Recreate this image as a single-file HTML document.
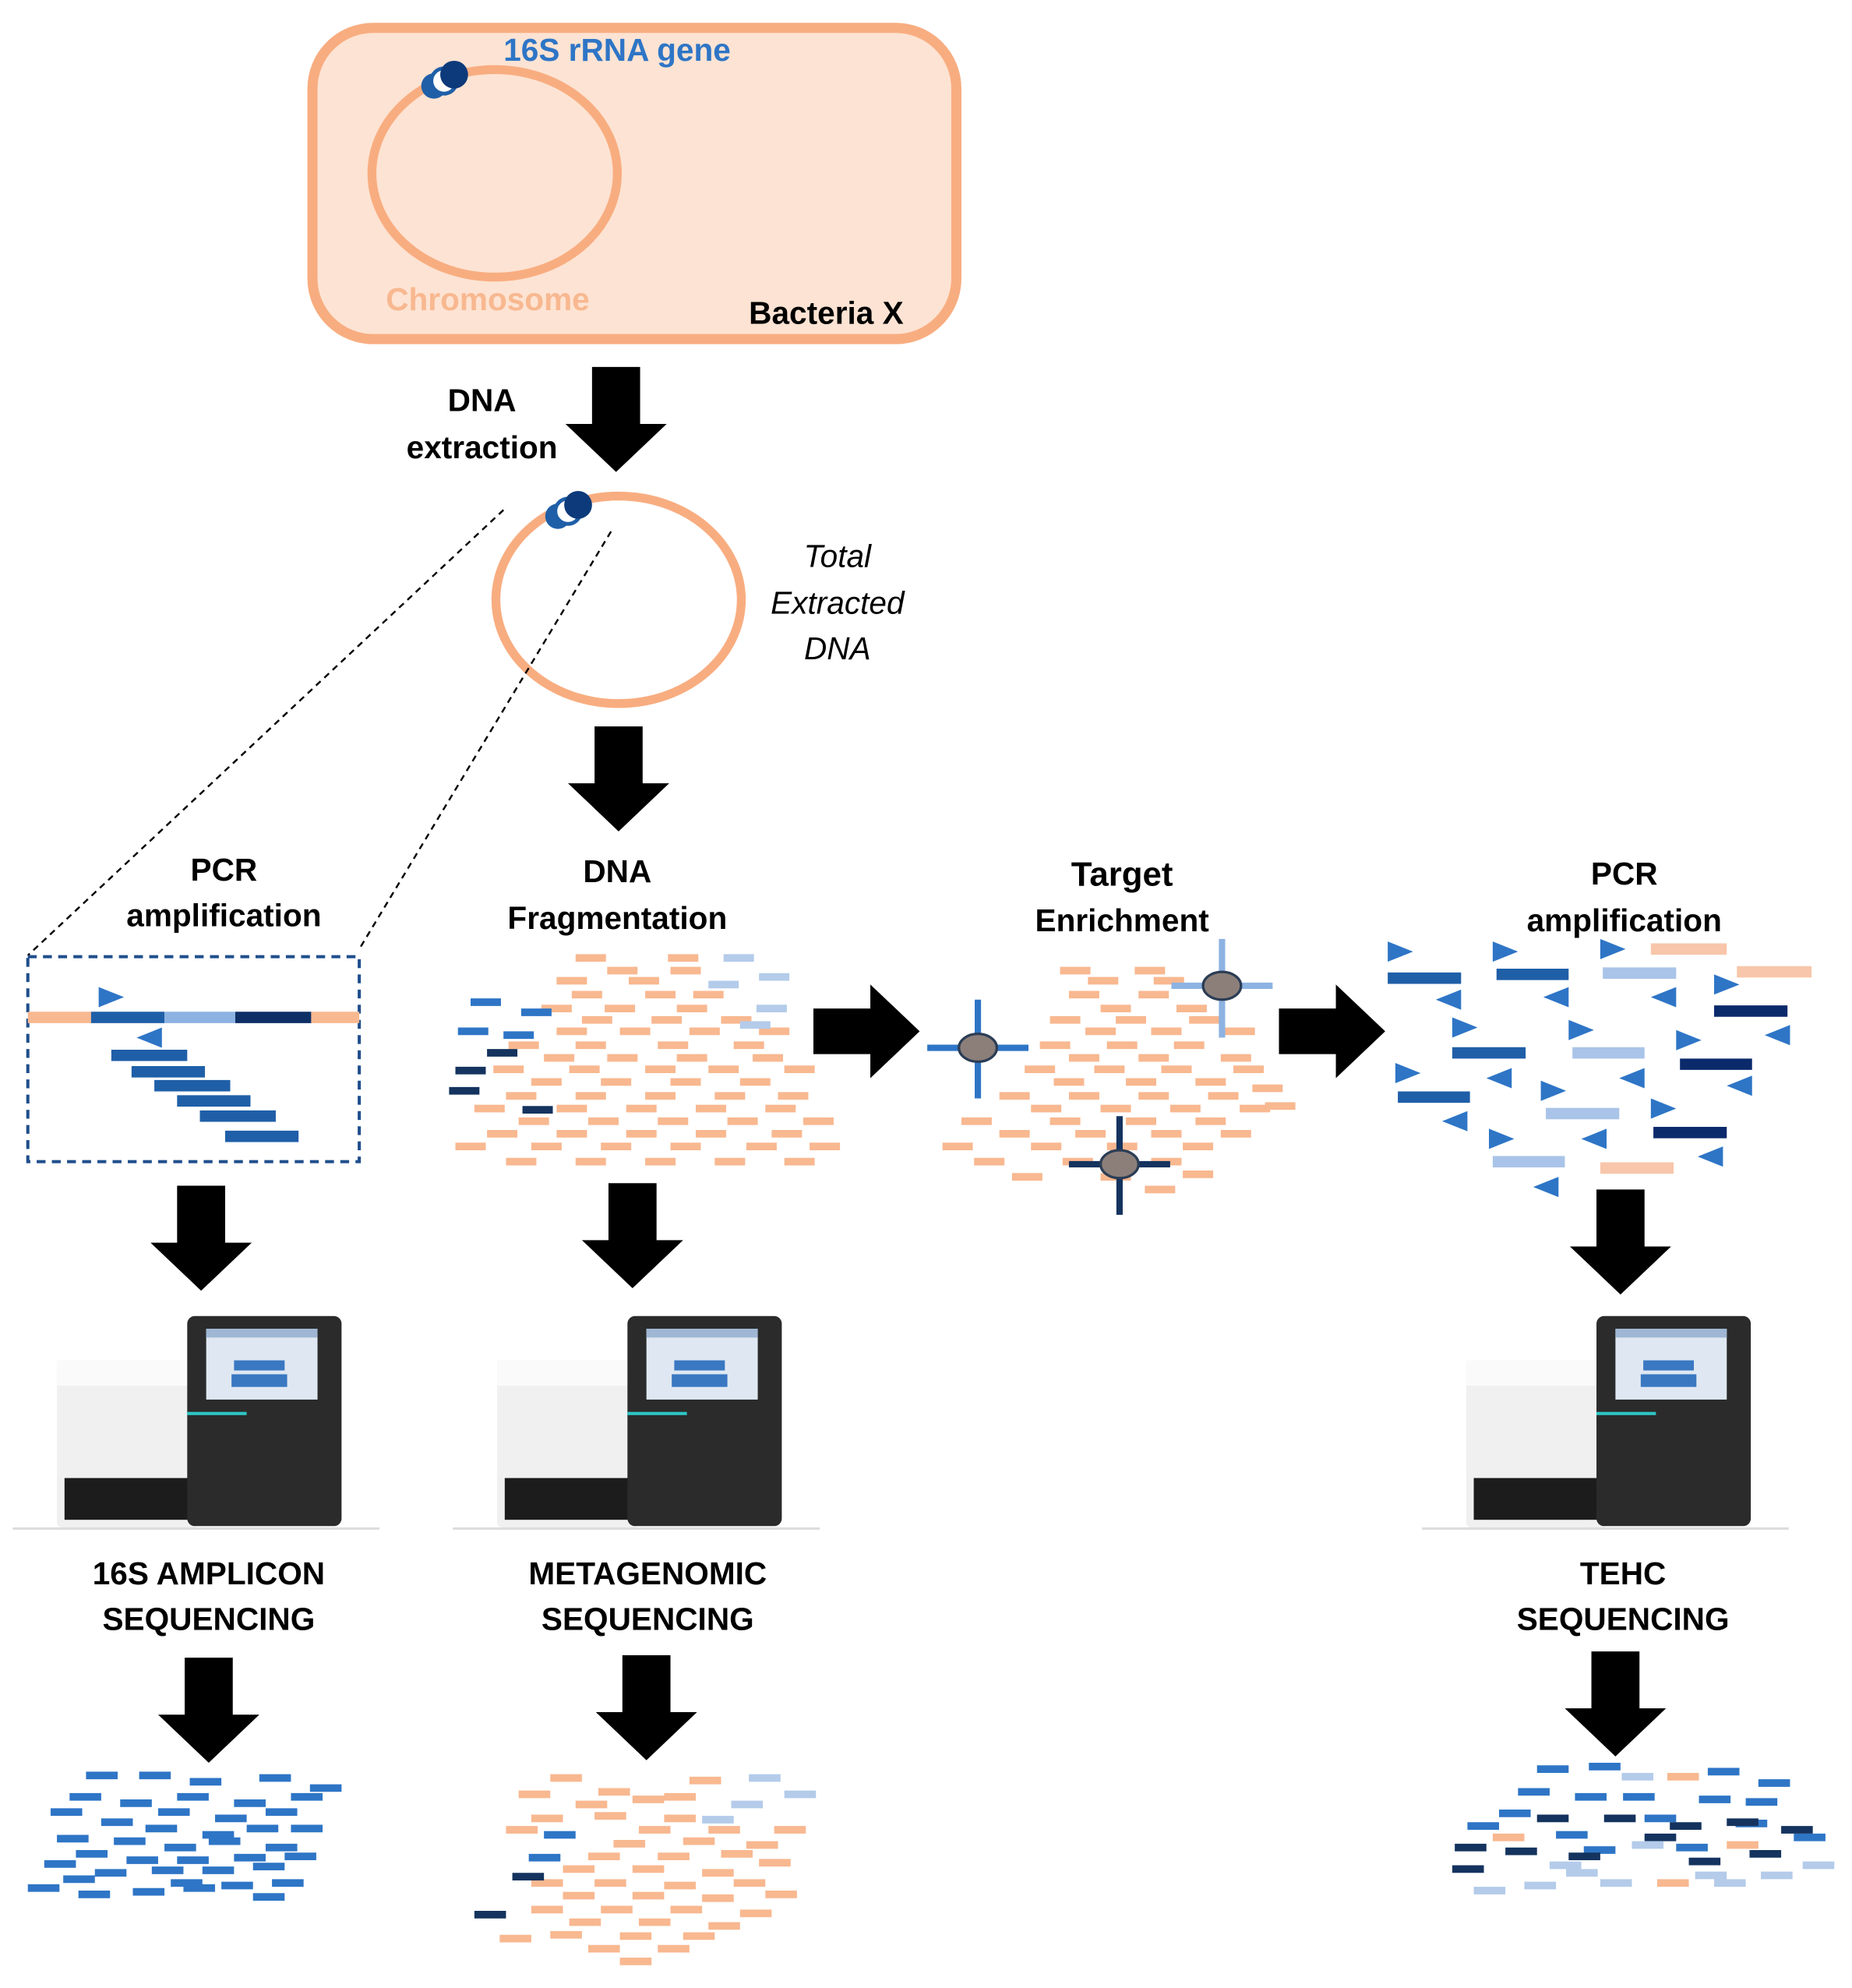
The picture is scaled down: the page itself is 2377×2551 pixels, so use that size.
<!DOCTYPE html>
<html><head><meta charset="utf-8"><style>html,body{margin:0;padding:0;background:#fff}svg{display:block}text{font-family:"Liberation Sans",sans-serif;font-weight:bold}</style></head><body>
<svg width="2377" height="2551" viewBox="0 0 1464 1571" preserveAspectRatio="none" xmlns="http://www.w3.org/2000/svg">
<defs>
<path id="dn" d="M-19 0 h38 v45 h21 l-40 38 l-40 -38 h21 z" fill="#000"/>
<path id="rt" d="M0 -18 v36 h45 v19 l39 -37 l-39 -37 v19 z" fill="#000"/>
<g id="gene"><circle cx="0" cy="6" r="10" fill="#1f5fa8"/><circle cx="8" cy="2" r="10" fill="#fff" stroke="#1f5fa8" stroke-width="3"/><circle cx="16" cy="-3" r="11" fill="#0d3a7a"/></g>
<g id="seq">
<rect x="0" y="35" width="112" height="132" rx="4" fill="#f0f0f0"/>
<rect x="0" y="35" width="112" height="20" fill="#fafafa"/>
<rect x="6" y="128" width="106" height="33" fill="#1c1c1c"/>
<rect x="103" y="0" width="122" height="166" rx="6" fill="#2b2b2b"/>
<rect x="118" y="10" width="88" height="56" fill="#dfe8f2"/>
<rect x="118" y="10" width="88" height="7" fill="#9fb7d4"/>
<rect x="140" y="35" width="40" height="8" fill="#3a78c2"/>
<rect x="138" y="46" width="44" height="10" fill="#3a78c2"/>
<line x1="103" y1="77" x2="150" y2="77" stroke="#2ec4c4" stroke-width="2.5"/>
<line x1="-35" y1="168" x2="255" y2="168" stroke="#ddd" stroke-width="2"/>
</g>
</defs>
<!-- bacteria -->
<rect x="247" y="22" width="509" height="246" rx="48" fill="#fde3d3" stroke="#f8ad80" stroke-width="8"/>
<ellipse cx="391" cy="137" rx="97" ry="82" fill="none" stroke="#f8ad80" stroke-width="7"/>
<use href="#gene" x="343" y="62"/>
<text x="398" y="48" font-size="25" fill="#2e75c6">16S rRNA gene</text>
<text x="305" y="245" font-size="25" fill="#f8b890">Chromosome</text>
<text x="592" y="256" font-size="25" fill="#000">Bacteria X</text>
<use href="#dn" x="487" y="290"/>
<text x="381" y="325" font-size="25" text-anchor="middle">DNA</text>
<text x="381" y="362" font-size="25" text-anchor="middle">extraction</text>
<ellipse cx="489" cy="474" rx="97" ry="82" fill="none" stroke="#f8ad80" stroke-width="7"/>
<use href="#gene" x="441" y="402"/>
<g font-size="25" font-style="italic" text-anchor="middle" style="font-weight:normal"><text x="662" y="448" style="font-weight:normal">Total</text><text x="662" y="485" style="font-weight:normal">Extracted</text><text x="662" y="521" style="font-weight:normal">DNA</text></g>
<line x1="398" y1="403" x2="22" y2="755" stroke="#000" stroke-width="1.5" stroke-dasharray="5,4"/>
<line x1="483" y1="420" x2="284" y2="750" stroke="#000" stroke-width="1.5" stroke-dasharray="5,4"/>
<use href="#dn" x="489" y="574"/>
<!-- labels -->
<g font-size="25" text-anchor="middle">
<text x="177" y="696">PCR</text><text x="177" y="732">amplification</text>
<text x="488" y="697">DNA</text><text x="488" y="734">Fragmentation</text>
<text x="887" y="700" font-size="27">Target</text><text x="887" y="736">Enrichment</text>
<text x="1284" y="699">PCR</text><text x="1284" y="736">amplification</text>
</g>
<!-- dashed box -->
<rect x="22" y="756" width="262" height="162" fill="none" stroke="#1f4e8c" stroke-width="2.5" stroke-dasharray="7,5"/>
<g stroke-width="9">
<line x1="22" y1="804" x2="72" y2="804" stroke="#f8b890"/>
<line x1="72" y1="804" x2="130" y2="804" stroke="#1f5fa8"/>
<line x1="130" y1="804" x2="186" y2="804" stroke="#8db3e2"/>
<line x1="186" y1="804" x2="246" y2="804" stroke="#0d2f66"/>
<line x1="246" y1="804" x2="284" y2="804" stroke="#f8b890"/>
<path d="M88 834h60M104 847h58M122 858h60M140 870h58M158 882h60M178 898h58" stroke="#1f5fa8"/>
</g>
<path d="M78 780 l20 8 l-20 8z M128 812 l-20 8 l20 8z" fill="#2e75c6"/>
<!-- fragmentation cloud -->
<path stroke="#f8b890" stroke-width="6" d="M455 757h24M528 757h24M480 767h24M530 767h24M440 775h24M497 775h24M452 786h24M510 786h24M548 786h24M428 797h24M478 797h24M535 797h24M460 806h24M515 806h24M570 806h24M440 815h24M490 815h24M545 815h24M600 815h24M402 826h24M455 826h24M520 826h24M580 826h24M430 836h24M480 836h24M535 836h24M595 836h24M390 845h24M450 845h24M510 845h24M560 845h24M620 845h24M420 855h24M475 855h24M530 855h24M585 855h24M400 866h24M455 866h24M510 866h24M565 866h24M615 866h24M375 876h24M440 876h24M495 876h24M550 876h24M605 876h24M410 886h24M465 886h24M520 886h24M575 886h24M635 886h24M385 896h24M440 896h24M495 896h24M550 896h24M610 896h24M360 906h24M420 906h24M475 906h24M530 906h24M590 906h24M640 906h24M400 918h24M455 918h24M510 918h24M565 918h24M620 918h24"/>
<path stroke="#b4cbea" stroke-width="6" d="M572 757h24M560 778h24M600 772h24M598 797h24M585 810h24"/>
<path stroke="#2e75c6" stroke-width="6" d="M372 792h24M412 800h24M362 815h24M398 818h24"/>
<path stroke="#14335e" stroke-width="6" d="M385 832h24M360 846h24M355 862h24M413 877h24"/>
<use href="#rt" x="643" y="815"/>
<use href="#rt" x="1011" y="815"/>
<!-- TE cloud -->
<path stroke="#f8b890" stroke-width="6" d="M838 767h24M897 767h24M860 775h24M912 775h24M845 786h24M900 786h24M870 797h24M930 797h24M830 806h24M882 806h24M940 806h24M858 815h24M910 815h24M968 815h24M822 826h24M875 826h24M928 826h24M965 836h24M845 836h24M900 836h24M810 845h24M865 845h24M918 845h24M975 845h24M833 855h24M890 855h24M945 855h24M990 860h24M790 866h24M845 866h24M900 866h24M955 866h24M1000 874h24M815 876h24M870 876h24M925 876h24M980 876h24M760 886h24M830 886h24M890 886h24M945 886h24M790 896h24M850 896h24M910 896h24M965 896h24M745 906h24M815 906h24M875 906h24M935 906h24M770 918h24M840 918h24M910 918h24M800 930h24M870 930h24M935 928h24M905 940h24"/>
<g stroke-width="5">
<path d="M773 790v78M733 828h80" stroke="#2e75c6"/>
<path d="M966 742v78M926 779h80" stroke="#8db3e2"/>
<path d="M885 882v78M845 920h80" stroke="#14335e"/>
</g>
<ellipse cx="773" cy="828" rx="15" ry="11" fill="#8c7f7a" stroke="#2b3d55" stroke-width="2"/>
<ellipse cx="966" cy="779" rx="15" ry="11" fill="#8c7f7a" stroke="#2b3d55" stroke-width="2"/>
<ellipse cx="885" cy="920" rx="15" ry="11" fill="#8c7f7a" stroke="#2b3d55" stroke-width="2"/>
<!-- PCR right -->
<g stroke-width="9">
<path stroke="#1f5fa8" d="M1097 773h58M1183 770h57M1148 832h58M1105 867h57"/>
<path stroke="#a9c4e8" d="M1267 769h58M1243 832h57M1222 880h58M1180 918h57"/>
<path stroke="#f8c6aa" d="M1305 750h60M1373 768h59M1265 923h58"/>
<path stroke="#0b2a6b" d="M1355 799h58M1328 841h57M1307 895h58"/>
</g>
<path fill="#2e75c6" d="M1097 744l20 8l-20 8zM1180 744l20 8l-20 8zM1265 742l20 8l-20 8zM1355 770l20 8l-20 8zM1148 804l20 8l-20 8zM1240 806l20 8l-20 8zM1325 814l20 8l-20 8zM1103 840l20 8l-20 8zM1218 854l20 8l-20 8zM1305 868l20 8l-20 8zM1177 892l20 8l-20 8zM1155 782l-20 8l20 8zM1240 780l-20 8l20 8zM1325 780l-20 8l20 8zM1415 810l-20 8l20 8zM1195 844l-20 8l20 8zM1300 844l-20 8l20 8zM1385 850l-20 8l20 8zM1160 878l-20 8l20 8zM1270 892l-20 8l20 8zM1232 930l-20 8l20 8zM1362 906l-20 8l20 8z"/>
<!-- down arrows & sequencers -->
<use href="#dn" x="159" y="937"/>
<use href="#dn" x="500" y="935"/>
<use href="#dn" x="1281" y="940"/>
<use href="#seq" x="45" y="1040"/>
<use href="#seq" x="393" y="1040"/>
<use href="#seq" x="1159" y="1040"/>
<g font-size="25" text-anchor="middle">
<text x="165" y="1252">16S AMPLICON</text><text x="165" y="1288">SEQUENCING</text>
<text x="512" y="1252">METAGENOMIC</text><text x="512" y="1288">SEQUENCING</text>
<text x="1283" y="1252">TEHC</text><text x="1283" y="1288">SEQUENCING</text>
</g>
<use href="#dn" x="165" y="1310"/>
<use href="#dn" x="511" y="1308"/>
<use href="#dn" x="1277" y="1305"/>
<!-- bottom clouds -->
<path stroke="#2e75c6" stroke-width="6" d="M68 1403h25M110 1403h25M150 1408h25M205 1405h25M245 1413h25M55 1420h25M95 1425h25M140 1420h25M185 1425h25M230 1420h25M40 1432h25M80 1440h25M125 1432h25M170 1437h25M210 1432h25M115 1445h25M160 1450h25M195 1445h25M230 1445h25M45 1453h25M90 1455h25M130 1460h25M165 1455h25M210 1460h25M60 1465h25M100 1470h25M140 1470h25M185 1468h25M225 1467h25M35 1473h25M75 1480h25M120 1478h25M160 1478h25M200 1475h25M50 1485h25M135 1488h25M175 1490h25M215 1488h25M22 1492h25M62 1497h25M105 1495h25M145 1492h25M200 1499h25"/>
<path stroke="#f8b890" stroke-width="6" d="M435 1405h25M545 1407h25M410 1418h25M473 1416h25M525 1420h25M455 1426h25M500 1422h25M420 1437h25M470 1435h25M525 1437h25M400 1446h25M505 1446h25M560 1446h25M612 1446h25M485 1457h25M540 1455h25M590 1458h25M465 1467h25M520 1467h25M570 1465h25M445 1477h25M500 1477h25M555 1480h25M600 1472h25M420 1488h25M470 1488h25M525 1490h25M580 1488h25M445 1498h25M500 1498h25M555 1500h25M605 1497h25M420 1509h25M475 1509h25M530 1509h25M585 1512h25M395 1532h25M450 1519h25M505 1519h25M560 1522h25M435 1529h25M490 1530h25M540 1530h25M465 1540h25M520 1540h25M490 1550h25"/>
<path stroke="#b4cbea" stroke-width="6" d="M592 1405h25M620 1418h25M578 1426h25M555 1438h25"/>
<path stroke="#2e75c6" stroke-width="6" d="M430 1450h25M418 1468h25"/>
<path stroke="#14335e" stroke-width="6" d="M405 1483h25M375 1513h25"/>
<path stroke="#2e75c6" stroke-width="6" d="M1215 1398h25M1256 1396h25M1350 1400h25M1200 1416h25M1245 1420h25M1283 1420h25M1343 1422h25M1380 1424h25M1390 1409h25M1185 1433h25M1300 1437h25M1372 1441h25M1160 1443h25M1230 1450h25M1418 1452h25M1252 1462h25M1325 1460h25"/>
<path stroke="#14335e" stroke-width="6" d="M1148 1477h25M1215 1437h25M1268 1437h25M1320 1443h25M1365 1440h25M1408 1446h25M1150 1460h25M1240 1467h25M1335 1471h25M1300 1452h25M1383 1465h25M1190 1463h25"/>
<path stroke="#b4cbea" stroke-width="6" d="M1282 1404h25M1238 1480h25M1290 1458h25M1225 1474h25M1340 1482h25M1392 1482h25M1425 1474h25M1165 1494h25M1205 1490h25M1265 1488h25M1355 1488h25"/>
<path stroke="#f8b890" stroke-width="6" d="M1318 1404h25M1180 1452h25M1310 1488h25M1365 1458h25"/>
</svg>
</body></html>
